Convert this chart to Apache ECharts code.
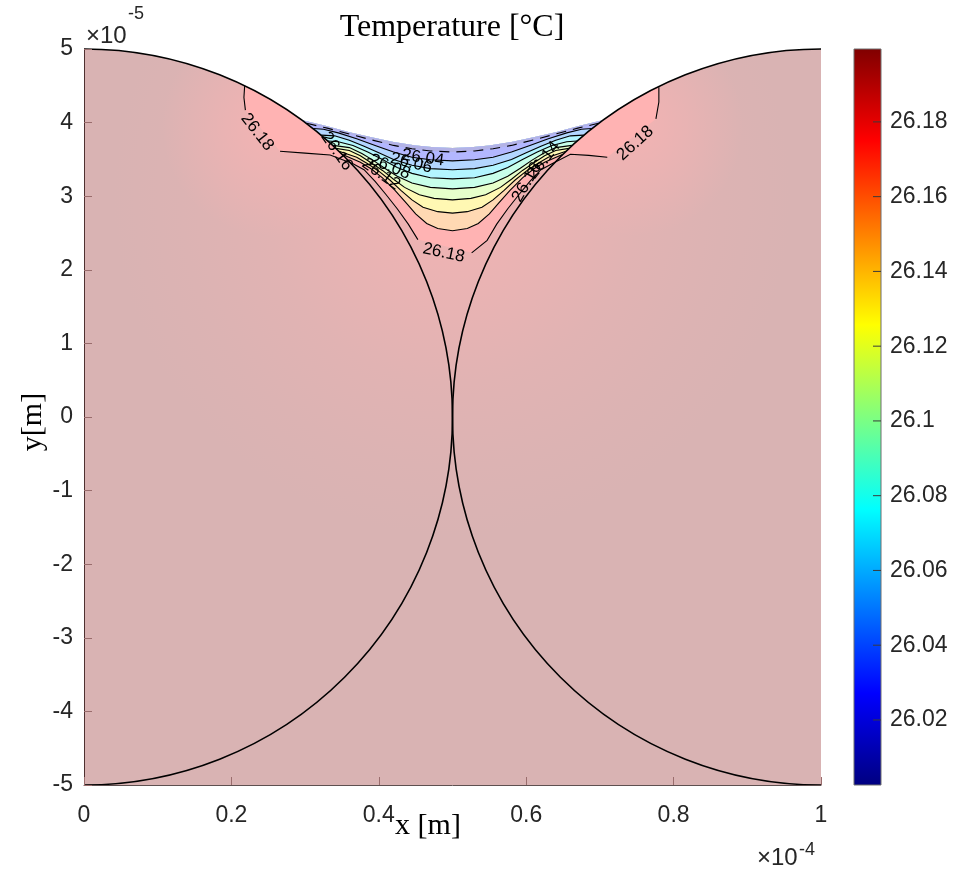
<!DOCTYPE html>
<html>
<head>
<meta charset="utf-8">
<script src="https://cdn.jsdelivr.net/npm/echarts@6/dist/echarts.min.js"></script>
<style>
html,body{margin:0;padding:0;background:#ffffff;}
#chart{width:963px;height:870px;}
</style>
</head>
<body>
<div id="chart"></div>
<script>
// ---------------- data (x and y in units of 1e-5 m) ----------------
const xRange = [0, 10];
const yRange = [-5, 5];
const xTicks = [0, 2, 4, 6, 8, 10];               // shown as 0 ... 1 (x 1e-4)
const yTicks = [-5, -4, -3, -2, -1, 0, 1, 2, 3, 4, 5];
const cbarTicks = [26.02, 26.04, 26.06, 26.08, 26.10, 26.12, 26.14, 26.16, 26.18];
const tRange = [26.0026, 26.1995];

// two particles: [cx, cy, r]
const circles = [[0, 0, 5], [10, 0, 5]];

// liquid surface between the particles (left contact -> right contact)
const meniscus = [[2.95,4.037],[3.3,3.95],[3.6,3.87],[3.9,3.80],[4.2,3.735],[4.5,3.69],[4.75,3.665],[5.0,3.655],
  [5.25,3.665],[5.5,3.69],[5.8,3.735],[6.1,3.80],[6.4,3.87],[6.7,3.95],[7.05,4.037]];

// contour levels and lines ([x, y] ; a third value 1 = line interrupted after this point by a label)
const levels = [26.02, 26.04, 26.06, 26.08, 26.10, 26.12, 26.14, 26.16, 26.18];
// representative temperature inside each band (below its level)
const bandTemps = [26.011, 26.03, 26.05, 26.07, 26.09, 26.11, 26.13, 26.15, 26.175];
const c2602 = [[3.02,3.99],[3.3,3.925],[3.6,3.845],[3.9,3.765],[4.2,3.69],[4.45,3.645],[4.7,3.615],[5.0,3.60],
  [5.3,3.615],[5.55,3.645],[5.8,3.69],[6.1,3.765],[6.4,3.845],[6.7,3.925],[6.98,3.99]];
const c2604 = [[3.11,3.92],[3.25,3.91],[3.45,3.86],[3.7,3.78],[3.95,3.69],[4.2,3.60],[4.45,3.53],[4.7,3.495],[5.0,3.48],
  [5.3,3.495],[5.55,3.53],[5.8,3.60],[6.05,3.69],[6.3,3.78],[6.55,3.86],[6.75,3.91],[6.89,3.92]];
const c2606 = [[3.22,3.83],[3.4,3.82],[3.6,3.76],[3.8,3.68],[4.0,3.59],[4.2,3.50],[4.45,3.42],[4.7,3.375],[5.0,3.36],
  [5.3,3.375],[5.55,3.42],[5.8,3.50],[6.0,3.59],[6.2,3.68],[6.4,3.76],[6.6,3.82],[6.78,3.83]];
const c2608 = [[3.31,3.75],[3.45,3.74],[3.65,3.69],[3.85,3.60],[4.05,3.50],[4.25,3.39],[4.45,3.31],[4.7,3.25],[5.0,3.235],
  [5.3,3.25],[5.55,3.31],[5.75,3.39],[5.95,3.50],[6.15,3.60],[6.35,3.69],[6.55,3.74],[6.69,3.75]];
const c2610 = [[3.38,3.69],[3.6,3.66],[3.77,3.58],[3.92,3.49],[4.08,3.38],[4.25,3.27],[4.45,3.18],[4.7,3.12],[5.0,3.10],
  [5.3,3.12],[5.55,3.18],[5.75,3.27],[5.92,3.38],[6.08,3.49],[6.23,3.58],[6.4,3.66],[6.62,3.69]];
const c2612 = [[3.42,3.65],[3.6,3.62],[3.75,3.55],[3.9,3.45],[4.05,3.35],[4.2,3.23],[4.35,3.12],[4.55,3.02],[4.75,2.97],[5.0,2.95],
  [5.25,2.97],[5.45,3.02],[5.65,3.12],[5.8,3.23],[5.95,3.35],[6.1,3.45],[6.25,3.55],[6.4,3.62],[6.58,3.65]];
const c2614 = [[3.46,3.61],[3.7,3.53],[3.85,3.44],[4.0,3.34],[4.15,3.22],[4.3,3.08],[4.45,2.95],[4.6,2.85],[4.8,2.79],[5.0,2.77],
  [5.2,2.79],[5.4,2.85],[5.55,2.95],[5.7,3.08],[5.85,3.22],[6.0,3.34],[6.15,3.44],[6.3,3.53],[6.54,3.61]];
const c2616 = [[3.50,3.57],[3.75,3.46],[3.9,3.37],[4.05,3.25],[4.22,3.08],[4.38,2.90],[4.5,2.76],[4.65,2.63],[4.8,2.56],[5.0,2.53],
  [5.2,2.56],[5.35,2.63],[5.5,2.76],[5.62,2.90],[5.78,3.08],[5.95,3.25],[6.1,3.37],[6.25,3.46],[6.50,3.57]];
const c2618 = [[2.18,4.50],[2.17,4.34],[2.19,4.17,1],[2.66,3.61],[3.0,3.585],[3.34,3.56],[3.65,3.44],[3.8,3.36],[3.95,3.20],
  [4.1,3.02],[4.25,2.83],[4.4,2.62],[4.53,2.41,1],[5.26,2.23],[5.47,2.40],[5.6,2.62],[5.75,2.83],[5.9,3.02],[6.05,3.20],
  [6.2,3.36],[6.35,3.44],[6.6,3.57],[6.85,3.555],[7.10,3.53,1],[7.76,4.05],[7.80,4.28],[7.80,4.48]];
const contours = [c2602, c2604, c2606, c2608, c2610, c2612, c2614, c2616, c2618];

// contour labels: [level, x, y, angle in degrees]
const contourLabels = [[26.18,2.35,3.87,-52],[26.18,7.48,3.72,42],[26.18,4.88,2.23,-12],[26.16,3.43,3.61,-55],
  [26.04,4.60,3.52,-8],[26.06,4.44,3.45,-14],[26.08,4.15,3.40,-22],[26.12,4.03,3.30,-35],
  [26.14,6.24,3.49,52],[26.16,6.01,3.19,60]];

// warm region: temperatures from the neck outwards
const haloTemps = [26.183, 26.189, 26.194, 26.1975, 26.1995];
const haloStops = [0, 0.3, 0.55, 0.8, 1];
const haloCentre = [5, 3.0];
const haloRadius = 4.6;
// slightly cooler spots near the top of the particles: [x, y, radius, temperature]
const coolSpots = [[2.55, 3.95, 1.5, 26.181], [7.45, 3.95, 1.5, 26.181]];

// ---------------- colour helpers (MATLAB jet, surface alpha 0.3) ----------------
const FACE_ALPHA = 0.3;
function jet(t) {
  t = Math.max(0, Math.min(1, t));
  const f = v => Math.max(0, Math.min(1, v));
  return [f(1.5 - Math.abs(4 * t - 3)), f(1.5 - Math.abs(4 * t - 2)), f(1.5 - Math.abs(4 * t - 1))];
}
function tNorm(T) { return (T - tRange[0]) / (tRange[1] - tRange[0]); }
function fieldRGB(T) {
  const c = jet(tNorm(T));
  const m = v => Math.round(255 * (1 - FACE_ALPHA) + 255 * FACE_ALPHA * v);
  return [m(c[0]), m(c[1]), m(c[2])];
}
function fieldColor(T, a) {
  const c = fieldRGB(T);
  return 'rgba(' + c[0] + ',' + c[1] + ',' + c[2] + ',' + (a == null ? 1 : a) + ')';
}
function barColor(t) {
  const c = jet(t);
  return 'rgb(' + Math.round(c[0] * 255) + ',' + Math.round(c[1] * 255) + ',' + Math.round(c[2] * 255) + ')';
}
function fmtT(v) { return String(+v.toFixed(2)); }

// ---------------- path helpers ----------------
function P(api, p) { const c = api.coord([p[0], p[1]]); return c[0].toFixed(2) + ' ' + c[1].toFixed(2); }
function radii(api, r) { return [api.size([r, 0])[0].toFixed(2), api.size([0, r])[1].toFixed(2)]; }

function basePath(api) {
  const r = radii(api, circles[0][2]);
  const L = circles[0], R = circles[1];
  let d = 'M' + P(api, [xRange[0], yRange[0]]) + ' L' + P(api, [L[0], L[1] + L[2]]);
  d += ' A' + r[0] + ' ' + r[1] + ' 0 0 1 ' + P(api, meniscus[0]);
  for (let i = 1; i < meniscus.length; i++) d += ' L' + P(api, meniscus[i]);
  d += ' A' + r[0] + ' ' + r[1] + ' 0 0 1 ' + P(api, [R[0], R[1] + R[2]]);
  d += ' L' + P(api, [xRange[1], yRange[0]]) + ' Z';
  return d;
}
function bandPath(api, pts) {
  const r = radii(api, circles[0][2]);
  let d = 'M' + P(api, pts[0]);
  for (let i = 1; i < pts.length; i++) d += ' L' + P(api, pts[i]);
  const E = pts[pts.length - 1], RC = meniscus[meniscus.length - 1];
  d += ' A' + r[0] + ' ' + r[1] + ' 0 0 ' + (E[1] < RC[1] ? 1 : 0) + ' ' + P(api, RC);
  for (let i = meniscus.length - 2; i >= 0; i--) d += ' L' + P(api, meniscus[i]);
  const S = pts[0], LC = meniscus[0];
  d += ' A' + r[0] + ' ' + r[1] + ' 0 0 ' + (S[1] < LC[1] ? 1 : 0) + ' ' + P(api, S) + ' Z';
  return d;
}

const chart = echarts.init(document.getElementById('chart'), null, { renderer: 'canvas' });
const tickFont = '"Liberation Sans", Arial, sans-serif';
const serif = '"Liberation Serif", "Times New Roman", serif';

const bandOrder = levels.map((l, i) => [i]).reverse();

const option = {
  animation: false,
  backgroundColor: '#ffffff',
  grid: [
    { left: 84, top: 49, width: 737, height: 736 },
    { left: 854, top: 49, width: 27, height: 736 }
  ],
  xAxis: [
    {
      gridIndex: 0, type: 'value', min: xRange[0], max: xRange[1], interval: 2, z: 10,
      axisLine: { show: true, onZero: false, lineStyle: { color: '#5e5050', width: 1 } },
      axisTick: { show: true, inside: true, length: 8, lineStyle: { color: '#9a6d6d' } },
      axisLabel: { margin: 19, fontSize: 23, fontFamily: tickFont, color: '#262626',
        formatter: v => String(+(v / 10).toFixed(1)) },
      splitLine: { show: false }
    },
    { gridIndex: 1, type: 'value', min: 0, max: 1, show: false }
  ],
  yAxis: [
    {
      gridIndex: 0, type: 'value', min: yRange[0], max: yRange[1], interval: 1, z: 10,
      axisLine: { show: true, onZero: false, lineStyle: { color: '#4e3030', width: 1 } },
      axisTick: { show: true, inside: true, length: 8, lineStyle: { color: '#9a6d6d' } },
      axisLabel: { margin: 11, fontSize: 23, fontFamily: tickFont, color: '#262626' },
      splitLine: { show: false }
    },
    {
      gridIndex: 1, type: 'value', min: tRange[0], max: tRange[1], position: 'right', z: 10,
      axisLine: { show: false },
      axisTick: { show: false },
      axisLabel: { margin: 9, fontSize: 23, fontFamily: tickFont, color: '#262626', customValues: cbarTicks,
        formatter: v => fmtT(v) },
      splitLine: { show: false }
    }
  ],
  graphic: [
    { type: 'text', x: 452, y: 28, style: { text: 'Temperature [°C]', font: '32px ' + serif, fill: '#000', align: 'center', verticalAlign: 'middle' } },
    { type: 'text', x: 428, y: 826, style: { text: 'x [m]', font: '30px ' + serif, fill: '#000', align: 'center', verticalAlign: 'middle' } },
    { type: 'text', x: 33, y: 422, rotation: Math.PI / 2, style: { text: 'y[m]', font: '30px ' + serif, fill: '#000', align: 'center', verticalAlign: 'middle' } },
    { type: 'text', x: 86, y: 36, style: { text: '×10', font: '24px ' + tickFont, fill: '#262626', align: 'left', verticalAlign: 'middle' } },
    { type: 'text', x: 128, y: 14, style: { text: '-5', font: '18px ' + tickFont, fill: '#262626', align: 'left', verticalAlign: 'middle' } },
    { type: 'text', x: 757, y: 858, style: { text: '×10', font: '24px ' + tickFont, fill: '#262626', align: 'left', verticalAlign: 'middle' } },
    { type: 'text', x: 799, y: 850, style: { text: '-4', font: '18px ' + tickFont, fill: '#262626', align: 'left', verticalAlign: 'middle' } }
  ],
  series: [
    {
      name: 'field', type: 'custom', xAxisIndex: 0, yAxisIndex: 0, data: [[haloCentre[0], haloCentre[1]]],
      renderItem: function (params, api) {
        const c = api.coord(haloCentre);
        const rad = api.size([haloRadius, 0])[0];
        const stops = haloTemps.map((T, i) => ({ offset: haloStops[i], color: fieldColor(T) }));
        const d = basePath(api);
        const children = [{
          type: 'path', shape: { pathData: d },
          style: { fill: new echarts.graphic.RadialGradient(c[0], c[1], rad, stops, true), stroke: null }
        }];
        coolSpots.forEach(s => {
          const sc = api.coord([s[0], s[1]]);
          const sr = api.size([s[2], 0])[0];
          children.push({
            type: 'path', shape: { pathData: d },
            style: { fill: new echarts.graphic.RadialGradient(sc[0], sc[1], sr,
              [{ offset: 0, color: fieldColor(s[3], 0.85) }, { offset: 1, color: fieldColor(s[3], 0) }], true), stroke: null }
          });
        });
        return { type: 'group', children: children };
      }
    },
    {
      name: 'bands', type: 'custom', xAxisIndex: 0, yAxisIndex: 0, data: bandOrder,
      renderItem: function (params, api) {
        const i = api.value(0);
        return {
          type: 'path', shape: { pathData: bandPath(api, contours[i]) },
          style: { fill: fieldColor(bandTemps[i]), stroke: null }
        };
      }
    },
    {
      name: 'contours', type: 'custom', xAxisIndex: 0, yAxisIndex: 0, data: levels.map((l, i) => [i]),
      renderItem: function (params, api) {
        const i = api.value(0);
        const pts = contours[i];
        const children = [];
        let cur = [];
        for (let k = 0; k < pts.length; k++) {
          cur.push(api.coord([pts[k][0], pts[k][1]]));
          if (pts[k][2] === 1 || k === pts.length - 1) {
            children.push({ type: 'polyline', shape: { points: cur },
              style: { stroke: '#000', lineWidth: 1.1, fill: null, lineDash: i === 0 ? [10, 7] : null } });
            cur = [];
          }
        }
        return { type: 'group', children: children };
      }
    },
    {
      name: 'particles', type: 'custom', xAxisIndex: 0, yAxisIndex: 0, data: circles,
      renderItem: function (params, api) {
        const cx = api.value(0), cy = api.value(1), r = api.value(2);
        const rr = radii(api, r);
        const side = params.dataIndex === 0 ? 1 : -1;
        const sweep = side === 1 ? 1 : 0;
        const d = 'M' + P(api, [cx, cy + r]) +
          ' A' + rr[0] + ' ' + rr[1] + ' 0 0 ' + sweep + ' ' + P(api, [cx + side * r, cy]) +
          ' A' + rr[0] + ' ' + rr[1] + ' 0 0 ' + sweep + ' ' + P(api, [cx, cy - r]);
        return { type: 'path', shape: { pathData: d }, style: { stroke: '#000', lineWidth: 1.6, fill: null } };
      }
    },
    {
      name: 'labels', type: 'custom', xAxisIndex: 0, yAxisIndex: 0, data: contourLabels,
      renderItem: function (params, api) {
        const c = api.coord([api.value(1), api.value(2)]);
        return {
          type: 'text', x: c[0], y: c[1], rotation: api.value(3) * Math.PI / 180,
          style: { text: fmtT(api.value(0)), font: '17px ' + tickFont, fill: '#000', align: 'center', verticalAlign: 'middle' }
        };
      }
    },
    {
      name: 'colorbar', type: 'custom', xAxisIndex: 1, yAxisIndex: 1, data: [[0, tRange[0], 1, tRange[1]]],
      renderItem: function (params, api) {
        const p0 = api.coord([api.value(0), api.value(3)]);
        const p1 = api.coord([api.value(2), api.value(1)]);
        const ts = [1, 0.875, 0.625, 0.375, 0.125, 0];
        const stops = ts.map(t => ({ offset: 1 - t, color: barColor(t) }));
        const children = [{
          type: 'rect', shape: { x: p0[0], y: p0[1], width: p1[0] - p0[0], height: p1[1] - p0[1] },
          style: { fill: new echarts.graphic.LinearGradient(0, 0, 0, 1, stops), stroke: '#6e6e6e', lineWidth: 1 }
        }];
        cbarTicks.forEach(v => {
          const y = api.coord([1, v])[1];
          children.push({ type: 'line', shape: { x1: p1[0] - 8, y1: y, x2: p1[0], y2: y },
            style: { stroke: '#3a3a3a', lineWidth: 1 } });
        });
        return { type: 'group', children: children };
      }
    }
  ]
};
chart.setOption(option);
</script>
</body>
</html>
